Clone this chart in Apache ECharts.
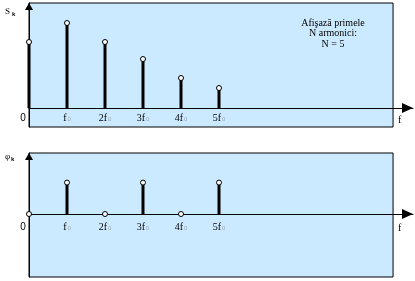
<!DOCTYPE html>
<html>
<head>
<meta charset="utf-8">
<script src="https://cdn.jsdelivr.net/npm/echarts@6/dist/echarts.min.js"></script>
<style>html,body{margin:0;padding:0;background:#fff}#c{width:415px;height:281px}</style>
</head>
<body>
<div id="c"></div>
<script>
// ---- data ----
const harmonics = [0, 1, 2, 3, 4, 5];
const tickLabels = ['0', 'f', '2f', '3f', '4f', '5f'];
const amplitude = [0.66, 0.85, 0.66, 0.49, 0.30, 0.20];
const phase = [0, 1.5708, 0, 1.5708, 0, 1.5708];
const noteLines = ['Afişază primele', 'N armonici:', 'N = 5'];

// ---- layout / style ----
const X_MAX = 10.105, BOX_X = 9.58;
const AMP_MIN = -0.19, AMP_MAX = 1.05;
const PH_MIN = -3.15, PH_MAX = 3.05;
const GRID_H = 124;
const FILL = '#cceaff';
const SERIF = "'Liberation Serif', serif";
const SANS = "'Liberation Sans', sans-serif";

function labelFmt(v) {
  const k = harmonics.indexOf(v);
  if (k < 0) return '';
  if (k === 0) return '{z|' + tickLabels[0] + '}';
  return '{f|' + tickLabels[k] + '}{s|0}';
}
const rich = {
  z: {fontFamily: SANS, fontSize: 10, color: '#000', padding: [0, 12, 0, 0], lineHeight: 12},
  f: {fontFamily: SERIF, fontSize: 10, color: '#000', lineHeight: 12},
  s: {fontFamily: SANS, fontSize: 6, color: '#9aa6b2', lineHeight: 12, padding: [2, 0, 0, 1]}
};

function xAxisFor(i, mn, mx) {
  // place the axis at value 0 of the y scale
  const off = -(0 - mn) / (mx - mn) * GRID_H;
  return {
    gridIndex: i, type: 'value', min: 0, max: X_MAX, interval: 1, z: 5,
    position: 'bottom', offset: off,
    axisLine: {onZero: false, lineStyle: {color: '#000', width: 1},
      symbol: ['none', 'triangle'], symbolSize: [10, 11], symbolOffset: [0, -5.5]},
    axisTick: {show: false}, splitLine: {show: false},
    axisLabel: {margin: i ? 7 : 4, formatter: labelFmt, rich: rich, showMaxLabel: false},
    name: 'f', nameLocation: 'end', nameGap: -15,
    nameTextStyle: {fontFamily: SERIF, fontSize: 10, color: '#000', verticalAlign: 'top', align: 'left', padding: [i ? 9 : 7, 0, 0, 0]}
  };
}
function yAxisFor(i, mn, mx) {
  return {
    gridIndex: i, type: 'value', min: mn, max: mx, z: 5,
    axisLine: {onZero: false, lineStyle: {color: '#000', width: 1},
      symbol: ['none', 'triangle'], symbolSize: [8, 7], symbolOffset: [0, -3.5]},
    axisTick: {show: false}, splitLine: {show: false}, axisLabel: {show: false}
  };
}
function boxSeries(i, mn, mx) {
  return {
    type: 'line', xAxisIndex: i, yAxisIndex: i, data: [], z: 1, silent: true,
    markArea: {silent: true, z: 1, itemStyle: {color: FILL, borderColor: '#000', borderWidth: 1},
      data: [[{xAxis: 0, yAxis: mn}, {xAxis: BOX_X, yAxis: mx}]]}
  };
}
function stemSeries(i, vals) {
  return {
    type: 'bar', xAxisIndex: i, yAxisIndex: i, barWidth: 3, clip: false, z: 2,
    itemStyle: {color: '#000'},
    data: harmonics.map((h, k) => [h, vals[k]])
  };
}
function dotSeries(i, vals) {
  return {
    type: 'scatter', xAxisIndex: i, yAxisIndex: i, z: 6, symbol: 'circle', symbolSize: 5,
    itemStyle: {color: '#fff', borderColor: '#000', borderWidth: 1, opacity: 1},
    data: harmonics.map((h, k) => [h, vals[k]])
  };
}

const chart = echarts.init(document.getElementById('c'), null, {renderer: 'canvas'});
chart.setOption({
  animation: false,
  backgroundColor: '#fff',
  grid: [
    {left: 29, right: 2, top: 3, height: GRID_H},
    {left: 29, right: 2, top: 153, height: GRID_H}
  ],
  xAxis: [xAxisFor(0, AMP_MIN, AMP_MAX), xAxisFor(1, PH_MIN, PH_MAX)],
  yAxis: [yAxisFor(0, AMP_MIN, AMP_MAX), yAxisFor(1, PH_MIN, PH_MAX)],
  series: [
    boxSeries(0, AMP_MIN, AMP_MAX), stemSeries(0, amplitude), dotSeries(0, amplitude),
    boxSeries(1, PH_MIN, PH_MAX), stemSeries(1, phase), dotSeries(1, phase)
  ],
  graphic: [
    {type: 'text', left: 5, top: 7, z: 10, style: {text: 'S', font: '9px ' + SERIF, fill: '#000'}},
    {type: 'text', left: 12, top: 11, z: 10, style: {text: 'k', font: 'bold 6px ' + SANS, fill: '#000'}},
    {type: 'text', left: 5, top: 152, z: 10, style: {text: 'φ', font: '9px ' + SERIF, fill: '#000'}},
    {type: 'text', left: 11, top: 156, z: 10, style: {text: 'k', font: 'bold 6px ' + SANS, fill: '#000'}},
    {type: 'text', x: 333, y: 18, z: 10, style: {text: noteLines.join('\n'), font: '10px ' + SERIF, lineHeight: 10.5, align: 'center', fill: '#000'}}
  ]
});
</script>
</body>
</html>
